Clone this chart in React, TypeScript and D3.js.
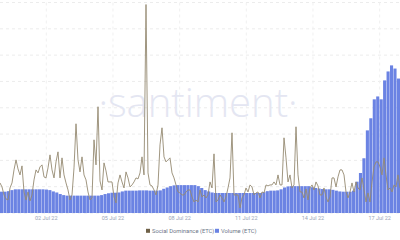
import React from "react";
import * as d3 from "d3";

const W = 400;
const H = 240;

// Volume (ETC), millions, one bar per interval
const volume: number[] = [
  0.81, 0.81, 0.83, 0.87, 0.9, 0.9, 0.9, 0.9, 0.9, 0.9, 0.9, 0.9, 0.9, 0.89, 0.87, 0.82,
  0.78, 0.72, 0.68, 0.66, 0.66, 0.66, 0.66, 0.66, 0.66, 0.66, 0.66, 0.66, 0.66, 0.68, 0.72,
  0.75, 0.77, 0.77, 0.78, 0.82, 0.85, 0.85, 0.85, 0.85, 0.86, 0.86, 0.86, 0.85, 0.85, 0.85,
  0.86, 0.92, 0.97, 1.02, 1.05, 1.06, 1.06, 1.06, 1.06, 1.06, 1.06, 1.02, 0.95, 0.87, 0.82,
  0.78, 0.76, 0.76, 0.76, 0.76, 0.76, 0.76, 0.76, 0.76, 0.76, 0.76, 0.76, 0.76, 0.76, 0.76,
  0.79, 0.83, 0.85, 0.85, 0.86, 0.9, 0.97, 1.01, 1.02, 1.02, 1.02, 1.02, 1.02, 1.02, 0.98,
  0.95, 0.93, 0.91, 0.9, 0.9, 0.88, 0.85, 0.82, 0.81, 0.81, 0.81, 0.85, 1.19, 1.52, 2.08,
  3.14, 3.6, 4.32, 4.43, 4.32, 5.04, 5.38, 5.61, 5.49, 5.11,
];

// Social Dominance (ETC), %
const dominance: number[] = [
  0.3, 0.26, 0.18, 0.14, 0.13, 0.25, 0.3, 0.43, 0.53, 0.44, 0.38, 0.47, 0.21, 0.13, 0.21, 0.12,
  0.18, 0.33, 0.43, 0.4, 0.46, 0.48, 0.36, 0.35, 0.45, 0.58, 0.43, 0.35, 0.51, 0.61, 0.35, 0.55,
  0.38, 0.3, 0.23, 0.13, 0.18, 0.45, 0.89, 0.53, 0.41, 0.56, 0.38, 0.33, 0.21, 0.13, 0.15, 0.73,
  0.48, 1.06, 0.32, 0.23, 0.5, 0.42, 0.31, 0.31, 0.31, 0.16, 0.1, 0.3, 0.38, 0.31, 0.25, 0.41,
  0.35, 0.26, 0.28, 0.31, 0.35, 0.34, 0.4, 0.56, 0.38, 2.08, 0.4, 0.28, 0.27, 0.23, 0.18, 0.28,
  0.68, 0.85, 0.56, 0.51, 0.53, 0.55, 0.4, 0.35, 0.28, 0.21, 0.2, 0.18, 0.18, 0.21, 0.23, 0.23,
  0.16, 0.11, 0.13, 0.11, 0.23, 0.16, 0.18, 0.15, 0.18, 0.31, 0.25, 0.59, 0.11, 0.13, 0.18, 0.15,
  0.11, 0.16, 0.25, 0.35, 0.8, 0.18, 0.18, 0.18, 0.05, 0.15, 0.18, 0.25, 0.21, 0.28, 0.26, 0.18,
  0.2, 0.21, 0.15, 0.21, 0.2, 0.28, 0.27, 0.28, 0.28, 0.31, 0.28, 0.38, 0.28, 0.28, 0.75, 0.55,
  0.31, 0.38, 0.25, 0.28, 0.86, 0.38, 0.21, 0.21, 0.15, 0.24, 0.13, 0.25, 0.28, 0.23, 0.31, 0.27,
  0.18, 0.18, 0.25, 0.16, 0.11, 0.16, 0.35, 0.35, 0.26, 0.36, 0.43, 0.43, 0.38, 0.21, 0.15, 0.21,
  0.3, 0.21, 0.31, 0.25, 0.23, 0.35, 0.23, 0.11, 0.2, 0.11, 0.31, 0.46, 0.51, 0.51, 0.46, 0.38,
  0.55, 0.38, 0.23, 0.25, 0.21, 0.28, 0.26, 0.38, 0.25,
];

const tickDates: string[] = ["2022-07-02", "2022-07-05", "2022-07-08", "2022-07-11", "2022-07-14", "2022-07-17"];
const tickLabels: string[] = ["02 Jul 22", "05 Jul 22", "08 Jul 22", "11 Jul 22", "14 Jul 22", "17 Jul 22"];
const rangeStart = "2022-06-29T22:00:00Z";
const rangeEnd = "2022-07-17T22:00:00Z";
const gridSteps: number[] = [0, 1, 2, 3, 4, 5, 6, 7, 8];

const LINE_COLOR = "#958a72";
const BAR_COLOR = "#6b83e3";

export default function App() {
  const top = 2.5;
  const bottom = 213;
  const x = d3.scaleUtc().domain([new Date(rangeStart), new Date(rangeEnd)]).range([0, W]);
  const xBand = d3.scaleBand<number>().domain(d3.range(volume.length)).range([0, W]).paddingInner(0.1).paddingOuter(0);
  const xLine = d3.scaleLinear().domain([0, dominance.length - 1]).range([0, W]);
  const yVol = d3.scaleLinear().domain([0, 8]).range([bottom, top]);
  const yDom = d3.scaleLinear().domain([0, 2.1]).range([bottom, top]);

  const line = d3
    .line<number>()
    .x((_, i) => xLine(i))
    .y((d) => yDom(d))
    .curve(d3.curveLinear);

  return (
    <svg
      width={W}
      height={H}
      style={{ position: "absolute", left: 0, top: 0, background: "#fff" }}
      fontFamily="Roboto, 'Noto Sans', sans-serif"
    >
      <rect x={0} y={0} width={W} height={H} fill="#fff" />
      {gridSteps.map((g) => (
        <line
          key={"h" + g}
          x1={0}
          x2={W}
          y1={yVol(g)}
          y2={yVol(g)}
          stroke="#ececec"
          strokeDasharray="3,3"
          strokeWidth={1}
        />
      ))}
      {tickDates.map((t) => (
        <line
          key={"v" + t}
          x1={x(new Date(t))}
          x2={x(new Date(t))}
          y1={top}
          y2={bottom}
          stroke="#f0f0f0"
          strokeDasharray="3,3"
          strokeWidth={1}
        />
      ))}
      <text
        x={198}
        y={117}
        textAnchor="middle"
        fontSize={40}
        fontFamily="'Open Sans', 'Noto Sans', sans-serif"
        fontWeight={300}
        fill="#e4e6f2"
      >
        ·santiment·
      </text>
      {volume.map((v, i) => (
        <rect
          key={"b" + i}
          x={xBand(i)}
          y={yVol(v)}
          width={xBand.bandwidth()}
          height={bottom - yVol(v)}
          fill={BAR_COLOR}
        />
      ))}
      <path d={line(dominance) || ""} fill="none" stroke={LINE_COLOR} strokeWidth={0.9} strokeLinejoin="round" />
      {tickDates.map((t, i) => (
        <text key={"t" + t} x={x(new Date(t))} y={220} textAnchor="middle" fontSize={5.5} fill="#9aa5b8">
          {tickLabels[i]}
        </text>
      ))}
      <g transform="translate(0,231)">
        <rect x={146} y={-2.2} width={4} height={4} fill="#6f6148" />
        <text x={152} y={2.1} fontSize={5.8} fill="#6e778a">
          Social Dominance (ETC)
        </text>
        <rect x={215} y={-2.2} width={4} height={4} fill={BAR_COLOR} />
        <text x={221} y={2.1} fontSize={5.8} fill="#6e778a">
          Volume (ETC)
        </text>
      </g>
    </svg>
  );
}
